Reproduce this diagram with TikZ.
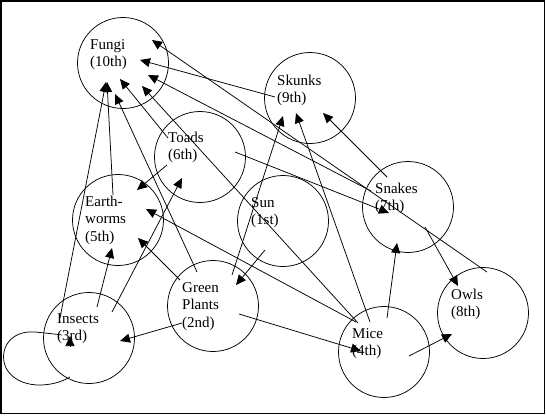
\documentclass[tikz,border=0pt]{standalone}
\usepackage{fontspec}
\setmainfont{Liberation Serif}
\usetikzlibrary{arrows.meta}
\begin{document}
\begin{tikzpicture}[x=1pt,y=-1pt,
  animal/.style={draw,circle,line width=0.75pt,minimum size=91pt,inner sep=0pt},
  lbl/.style={anchor=base west,align=left,inner sep=0pt,font=\fontsize{15}{17.5}\selectfont},
  arr/.style={line width=0.75pt,-{Triangle[length=10pt,width=9pt]}},
  plain/.style={line width=0.75pt}]
\useasboundingbox (0,0) rectangle (546,415);
\draw[line width=1.5pt] (1,1) rectangle (544.5,413.5);
% circles
\node[animal] (fungi)   at (123,63)  {};
\node[animal] (skunks)  at (310,98)  {};
\node[animal] (toads)   at (200,157) {};
\node[animal] (worms)   at (118,220) {};
\node[animal] (sun)     at (283,221) {};
\node[animal] (plants)  at (213,306) {};
\node[animal] (insects) at (89,338)  {};
\node[animal] (snakes)  at (408,207) {};
\node[animal] (mice)    at (384,352) {};
\node[animal] (owls)    at (483,313) {};
% labels (base anchor = baseline of last line)
\node[lbl] (fungiL)   at (90,66.5)   {Fungi\\(10th)};
\node[lbl] (skunksL)  at (277,102.5) {Skunks\\(9th)};
\node[lbl] (toadsL)   at (168,159.5) {Toads\\(6th)};
\node[lbl] (wormsL)   at (85,241)    {Earth-\\worms\\(5th)};
\node[lbl] (sunL)     at (251,224.5) {Sun\\(1st)};
\node[lbl] (plantsL)  at (182,327)   {Green\\Plants\\(2nd)};
\node[lbl] (insectsL) at (57,340.5)  {Insects\\(3rd)};
\node[lbl] (snakesL)  at (375,210.5) {Snakes\\(7th)};
\node[lbl] (miceL)    at (352,355.5) {Mice\\(4th)};
\node[lbl] (owlsL)    at (451,316.5) {Owls\\(8th)};
% arrows into Fungi
\draw[arr] ([shift={(4,-41)}]owls.center) -- ([shift={(29,-23)}]fungi.center);
\draw[arr] ([shift={(-35,-1)}]skunks.center) -- ([shift={(17,-3)}]fungi.center);
\draw[arr] ([shift={(-37,-16)}]snakes.center) -- ([shift={(25,12)}]fungi.center);
\draw[arr] ([shift={(-26,-29)}]mice.center) -- ([shift={(19,23)}]fungi.center);
\draw[arr] ([shift={(-32,-19)}]toads.center) -- ([shift={(-3,16)}]fungi.center);
\draw[arr] ([shift={(-16,-34)}]plants.center) -- ([shift={(-8,31)}]fungi.center);
\draw[arr] ([shift={(-5,-25)}]worms.center) -- ([shift={(-16,19)}]fungi.center);
\draw[arr] ([shift={(-29,-20)}]insects.center) -- ([shift={(-17,19)}]fungi.center);
% arrows into Skunks
\draw[arr] ([shift={(19,-31)}]plants.center) -- ([shift={(-27,18)}]skunks.center);
\draw[arr] ([shift={(-14,-30)}]mice.center) -- ([shift={(-14,15)}]skunks.center);
\draw[arr] ([shift={(-21,-30)}]snakes.center) -- ([shift={(13,15)}]skunks.center);
% arrows into Snakes
\draw[arr] ([shift={(35,-5)}]toads.center) -- ([shift={(-19,6)}]snakes.center);
\draw[arr] ([shift={(3,-34)}]mice.center) -- ([shift={(-11,36)}]snakes.center);
% arrows into Owls
\draw[arr] ([shift={(17,20)}]snakes.center) -- ([shift={(-25,-27)}]owls.center);
\draw[arr] ([shift={(25,4)}]mice.center) -- ([shift={(-31,21)}]owls.center);
% arrows into Mice / Plants
\draw[arr] ([shift={(26,8)}]plants.center) -- ([shift={(-23,-1)}]mice.center);
\draw[arr] ([shift={(-18,29)}]sun.center) -- ([shift={(23,-21)}]plants.center);
% arrows into Earthworms
\draw[arr] ([shift={(-28,-30)}]mice.center) -- ([shift={(28,-11)}]worms.center);
\draw[arr] ([shift={(-33,-26)}]plants.center) -- ([shift={(20,18)}]worms.center);
\draw[arr] ([shift={(8,-31)}]insects.center) -- ([shift={(-6,28)}]worms.center);
\draw[arr] ([shift={(-33,8)}]toads.center) -- ([shift={(19,-30)}]worms.center);
% arrows into Toads / Insects
\draw[arr] ([shift={(23,-26)}]insects.center) -- ([shift={(-18,21)}]toads.center);
\draw[arr] ([shift={(-31,17)}]plants.center) -- ([shift={(31,3)}]insects.center);
% insects self loop
\draw[plain] ([shift={(-19,39)}]insects.center)
  .. controls (52,388) and (18,390) .. (6,368)
  .. controls (-2,350) and (10,330) .. (35,332)
  .. controls (45,333) and (55,334) .. ([shift={(-27,-3)}]insects.center);
\draw[arr] ([shift={(-19,8)}]insects.center) -- ([shift={(-19,-2)}]insects.center);
\end{tikzpicture}
\end{document}
